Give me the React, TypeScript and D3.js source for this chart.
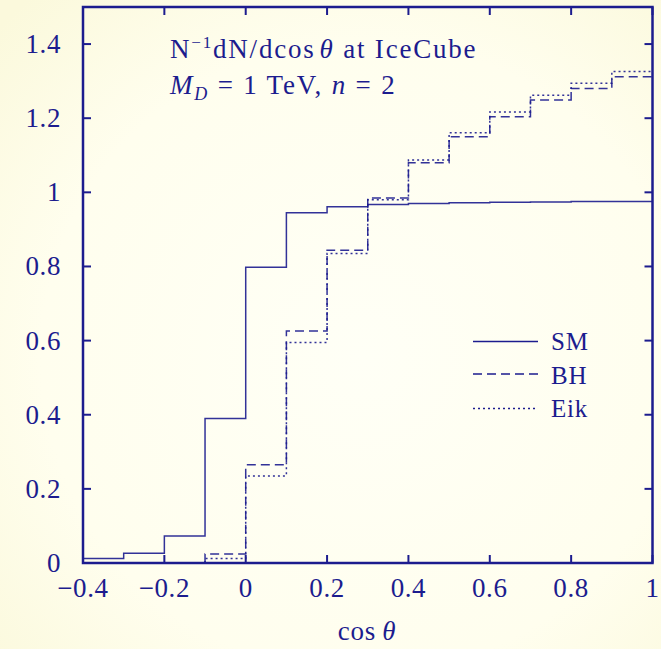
import React from "react";
import * as d3 from "d3";

// Bin edges of the cos(theta) histogram (width 0.1)
const smStart = -0.4;
const smValues = [0.012, 0.026, 0.073, 0.39, 0.798, 0.945, 0.961, 0.967, 0.97, 0.972, 0.973, 0.974, 0.975, 0.975];
const bhStart = -0.1;
const bhValues = [0.024, 0.265, 0.626, 0.844, 0.985, 1.08, 1.15, 1.204, 1.249, 1.28, 1.312];
const eikStart = -0.1;
const eikValues = [0.012, 0.235, 0.595, 0.835, 0.98, 1.087, 1.161, 1.217, 1.262, 1.294, 1.326];
const binWidth = 0.1;

const xTicks = [-0.4, -0.2, 0, 0.2, 0.4, 0.6, 0.8, 1];
const yTicks = [0, 0.2, 0.4, 0.6, 0.8, 1, 1.2, 1.4];

const legendItems = ["SM", "BH", "Eik"];

const W = 661;
const H = 649;
const INK = "#1c1c8e";
const FONT = "'Liberation Serif', 'Times New Roman', serif";

const x = d3.scaleLinear().domain([-0.4, 1]).range([83, 652.5]);
const y = d3.scaleLinear().domain([0, 1.5]).range([563, 7]);

const fmt = (v: number) => {
  const r = Math.round(v * 10) / 10;
  const s = Number.isInteger(r) ? String(r) : r.toFixed(1);
  return s.replace("-", "\u2212");
};

function stepPath(start: number, values: number[]) {
  const pts: [number, number][] = [[start, 0]];
  values.forEach((v, i) => pts.push([start + i * binWidth, v]));
  pts.push([start + values.length * binWidth, values[values.length - 1]]);
  const line = d3
    .line<[number, number]>()
    .x((d) => x(d[0]))
    .y((d) => y(d[1]))
    .curve(d3.curveStepAfter);
  return line(pts) || "";
}

const series = [
  { name: "SM", start: smStart, values: smValues, dash: undefined as string | undefined },
  { name: "BH", start: bhStart, values: bhValues, dash: "9,5" },
  { name: "Eik", start: eikStart, values: eikValues, dash: "2,3" },
];

export default function App() {
  const [x0, x1] = x.range();
  const [y0, y1] = y.range();
  const tickLen = 8;
  const legendLineY = [341.5, 374, 408.5];
  const legendTextY = [349.5, 383.5, 417];

  return (
    <svg
      width={W}
      height={H}
      viewBox={`0 0 ${W} ${H}`}
      style={{ position: "absolute", left: 0, top: 0 }}
    >
      <defs>
        <radialGradient id="bg" cx="55%" cy="55%" r="75%">
          <stop offset="0%" stopColor="#fffff6" />
          <stop offset="65%" stopColor="#fffeee" />
          <stop offset="100%" stopColor="#fbf9dc" />
        </radialGradient>
      </defs>
      <rect x={0} y={0} width={W} height={H} fill="url(#bg)" />

      {/* histogram steps */}
      {series.map((s) => (
        <path
          key={s.name}
          d={stepPath(s.start, s.values)}
          fill="none"
          stroke={INK}
          strokeWidth={1.5}
          strokeDasharray={s.dash}
          opacity={0.9}
        />
      ))}

      {/* ticks */}
      {yTicks.map((t) => (
        <g key={`y${t}`} stroke={INK} strokeWidth={2}>
          <line x1={x0} x2={x0 + tickLen} y1={y(t)} y2={y(t)} />
          <line x1={x1} x2={x1 - tickLen} y1={y(t)} y2={y(t)} />
        </g>
      ))}
      {xTicks.map((t) => (
        <g key={`x${t}`} stroke={INK} strokeWidth={2}>
          <line x1={x(t)} x2={x(t)} y1={y0} y2={y0 - tickLen} />
          <line x1={x(t)} x2={x(t)} y1={y1} y2={y1 + tickLen} />
        </g>
      ))}

      {/* frame */}
      <rect
        x={x0}
        y={y1}
        width={x1 - x0}
        height={y0 - y1}
        fill="none"
        stroke={INK}
        strokeWidth={2.5}
      />

      {/* tick labels */}
      <g fill={INK} fontFamily={FONT} fontSize={27}>
        {yTicks.map((t) => (
          <text key={`yl${t}`} x={61} y={y(t) + 9} textAnchor="end" letterSpacing={0.6}>
            {fmt(t)}
          </text>
        ))}
        {xTicks.map((t) => (
          <text key={`xl${t}`} x={x(t)} y={597} textAnchor="middle" letterSpacing={0.6}>
            {fmt(t)}
          </text>
        ))}
        <text x={367} y={640} textAnchor="middle" letterSpacing={0.8}>
          cos
          <tspan dx={6} fontStyle="italic">θ</tspan>
        </text>
      </g>

      {/* annotation */}
      <g fill={INK} fontFamily={FONT} fontSize={27} letterSpacing={1.8}>
        <text x={170} y={58}>
          N<tspan dy={-10} fontSize={17}>−1</tspan>
          <tspan dy={10}>dN/dcos</tspan>
          <tspan dx={4} fontStyle="italic">θ</tspan>
          <tspan> at IceCube</tspan>
        </text>
        <text x={170} y={94}>
          <tspan fontStyle="italic">M</tspan>
          <tspan dy={6} fontSize={18} fontStyle="italic">D</tspan>
          <tspan dy={-6}> = 1 TeV, </tspan>
          <tspan fontStyle="italic">n</tspan>
          <tspan> = 2</tspan>
        </text>
      </g>

      {/* legend */}
      {series.map((s, i) => (
        <g key={`lg${s.name}`}>
          <line
            x1={473}
            x2={538}
            y1={legendLineY[i]}
            y2={legendLineY[i]}
            stroke={INK}
            strokeWidth={1.5}
            strokeDasharray={s.dash}
          />
          <text
            x={551}
            y={legendTextY[i]}
            fill={INK}
            fontFamily={FONT}
            fontSize={25}
            letterSpacing={0.8}
          >
            {legendItems[i]}
          </text>
        </g>
      ))}
    </svg>
  );
}
